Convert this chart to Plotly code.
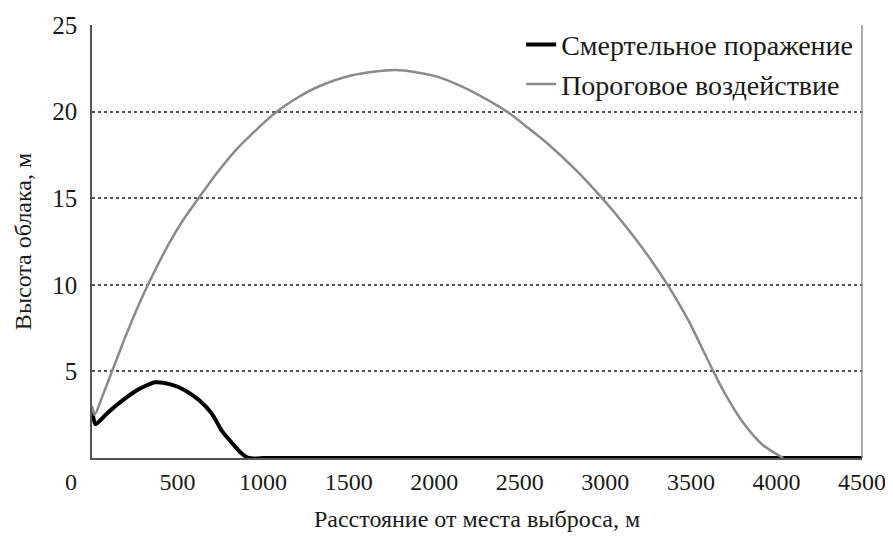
import plotly.graph_objects as go

# Data
lethal_x = [0, 20, 80, 156, 260, 370, 460, 545, 630, 701, 760, 820, 870, 910, 960, 1000, 1500, 2000, 2500, 3000, 3500, 4000, 4500]
lethal_y = [2.8, 1.95, 2.5, 3.15, 3.9, 4.37, 4.25, 3.9, 3.3, 2.55, 1.55, 0.85, 0.3, 0.02, -0.03, 0.0, 0.0, 0.0, 0.0, 0.0, 0.0, 0.0, 0.0]

thresh_x = [0, 15, 60, 117, 195, 260, 327, 448, 530, 623, 730, 838, 960, 1081, 1200, 1325, 1520, 1773, 2006, 2150, 2298, 2425, 2550, 2680, 2830, 2981, 3080, 3175, 3270, 3361, 3430, 3490, 3560, 3624, 3700, 3808, 3920, 4040]
thresh_y = [3.0, 2.5, 3.55, 5.0, 7.0, 8.55, 10.0, 12.35, 13.7, 15.0, 16.45, 17.75, 18.95, 20.0, 20.8, 21.45, 22.1, 22.4, 22.05, 21.5, 20.75, 20.0, 19.05, 18.0, 16.6, 15.0, 13.86, 12.67, 11.39, 10.04, 8.92, 7.86, 6.45, 5.15, 3.7, 2.0, 0.75, 0.0]

x_ticks = [0, 500, 1000, 1500, 2000, 2500, 3000, 3500, 4000, 4500]
y_ticks = [5, 10, 15, 20, 25]

series_names = ["Смертельное поражение", "Пороговое воздействие"]
x_title = "Расстояние от места выброса, м"
y_title = "Высота облака, м"

FONT = "Liberation Serif, Times New Roman, serif"

fig = go.Figure()
fig.add_trace(go.Scatter(
    x=lethal_x, y=lethal_y, mode="lines", name=series_names[0],
    line=dict(color="#000000", width=4, shape="spline", smoothing=0.6),
))
fig.add_trace(go.Scatter(
    x=thresh_x, y=thresh_y, mode="lines", name=series_names[1],
    line=dict(color="#8a8a8a", width=2.5, shape="spline", smoothing=0.8),
))

x_ticktext = [("0" + "&nbsp;" * 7) if v == 0 else str(v) for v in x_ticks]

# page body has an 8px default margin, so the figure is 8px smaller each way
fig.update_layout(
    width=885, height=529,
    margin=dict(l=84, r=31, t=15, b=79),
    paper_bgcolor="white", plot_bgcolor="white",
    font=dict(family=FONT, size=24, color="#1a1a1a"),
    showlegend=True,
    legend=dict(
        x=0.995, y=1.012, xanchor="right", yanchor="top",
        bgcolor="rgba(255,255,255,0)", font=dict(size=28, family=FONT, color="#1a1a1a"),
        itemwidth=30, tracegroupgap=0,
    ),
    xaxis=dict(
        range=[0, 4500], tickmode="array", tickvals=x_ticks, ticktext=x_ticktext,
        showgrid=False, zeroline=False, automargin=False,
        showline=True, linecolor="#555555", linewidth=1.5,
        ticks="", ticklabelstandoff=1,
        tickfont=dict(size=24),
        title=dict(text=x_title, standoff=17, font=dict(size=24)),
    ),
    yaxis=dict(
        range=[0, 25], tickmode="array", tickvals=y_ticks,
        showgrid=True, gridcolor="#555555", griddash="dot", gridwidth=1.5,
        zeroline=False, automargin=False,
        showline=True, linecolor="#555555", linewidth=1.5,
        ticks="", ticklabelstandoff=8,
        tickfont=dict(size=25),
        title=dict(text=y_title, standoff=14, font=dict(size=24)),
    ),
    shapes=[dict(type="line", xref="paper", yref="paper", x0=1, x1=1, y0=0, y1=1,
                 line=dict(color="#777777", width=1.2))],
)

fig.write_html("out.html")
